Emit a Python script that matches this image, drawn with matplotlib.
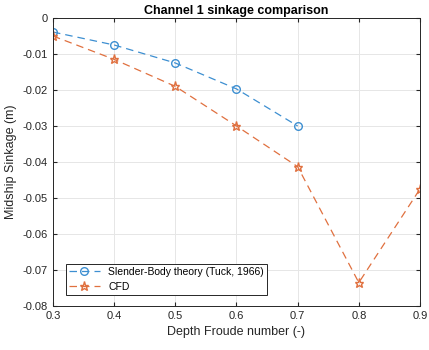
import matplotlib
matplotlib.use('Agg')
import matplotlib.pyplot as plt

plt.rcParams['font.family'] = ['Liberation Sans', 'DejaVu Sans']

froude_sbt = [0.3, 0.4, 0.5, 0.6, 0.7]
sink_sbt = [-0.0039, -0.0075, -0.0125, -0.0197, -0.0300]

froude_cfd = [0.3, 0.4, 0.5, 0.6, 0.7, 0.8, 0.9]
sink_cfd = [-0.0050, -0.0115, -0.0190, -0.0300, -0.0413, -0.0735, -0.0475]

x_ticks = [0.3, 0.4, 0.5, 0.6, 0.7, 0.8, 0.9]
y_ticks = [0, -0.01, -0.02, -0.03, -0.04, -0.05, -0.06, -0.07, -0.08]
y_labels = ['0', '-0.01', '-0.02', '-0.03', '-0.04', '-0.05', '-0.06', '-0.07', '-0.08']

blue = '#3d8fd1'
orange = '#e0703f'

fig = plt.figure(figsize=(4.29, 3.5), dpi=100)
ax = fig.add_axes([0.1235, 0.1257, 0.8555, 0.8229])

ax.plot(froude_sbt, sink_sbt, '--', color=blue, marker='o', markersize=5.5,
        markerfacecolor='none', linewidth=0.9, dashes=(6, 4),
        label='Slender-Body theory (Tuck, 1966)')
ax.plot(froude_cfd, sink_cfd, '--', color=orange, marker='*', markersize=6.5,
        markerfacecolor='none', linewidth=0.9, dashes=(6, 4), label='CFD')

ax.set_xlim(0.3, 0.9)
ax.set_ylim(-0.08, 0)
ax.set_xticks(x_ticks)
ax.set_xticklabels([f'{v:g}' for v in x_ticks])
ax.set_yticks(y_ticks)
ax.set_yticklabels(y_labels)
ax.tick_params(direction='in', length=3, labelsize=8, colors='#262626',
               top=True, right=True)
ax.grid(True, color='#e6e6e6', linewidth=0.7)
for s in ax.spines.values():
    s.set_color('#262626')
    s.set_linewidth(0.7)

ax.set_title('Channel 1 sinkage comparison', fontsize=9, fontweight='bold', pad=3)
ax.set_xlabel('Depth Froude number (-)', fontsize=9, color='#262626')
ax.set_ylabel('Midship Sinkage (m)', fontsize=9, color='#262626')

leg = ax.legend(loc='lower left', fontsize=7.5, fancybox=False, framealpha=1,
                edgecolor='#262626', borderpad=0.3, handlelength=3,
                bbox_to_anchor=(0.02, 0.02))
leg.get_frame().set_linewidth(0.7)

fig.savefig('out.png', dpi=100)
